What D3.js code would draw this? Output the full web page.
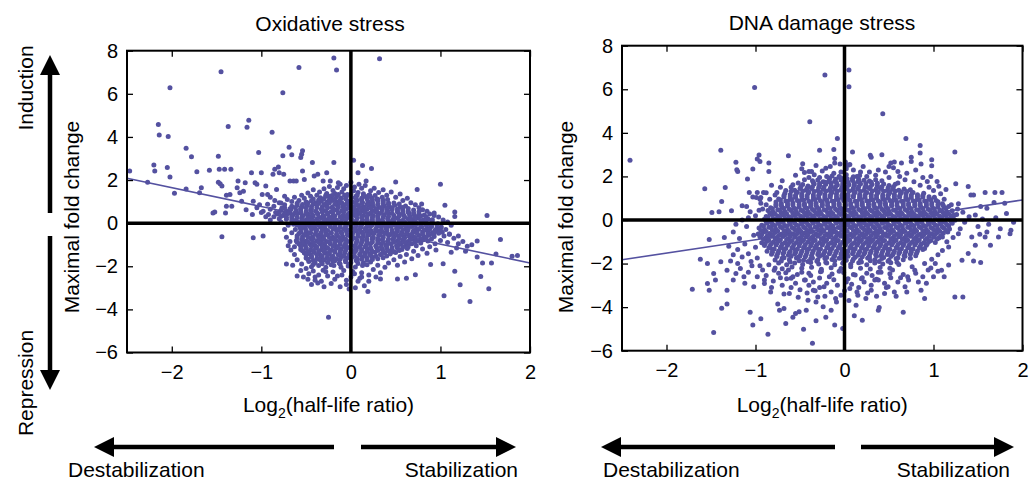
<!DOCTYPE html>
<html><head><meta charset="utf-8">
<script src="https://cdn.jsdelivr.net/npm/d3@7"></script>
<style>body{margin:0;background:#fff}</style>
</head><body><svg id="c" width="1029" height="482"></svg>
<script>
const xTicks=[-2,-1,0,1,2];
const yTicks=[-6,-4,-2,0,2,4,6,8];
const panelTitles=["Oxidative stress","DNA damage stress"];
const yLabel="Maximal fold change";
const xLabelParts=["Log","2","(half-life ratio)"];
const sideLabels=["Induction","Repression"];
const bottomLabels=["Destabilization","Stabilization"];
// regression fits: [slope, intercept]
const oxFit=[-0.873,-0.10];
const dnaFit=[0.61,-0.30];

const oxOutliers=[[-2.47,2.42],[-2.27,1.9],[-2.15,4.58],[-2.14,4.09],[-2.04,4.02],[-2.02,6.28],[-2.2,2.7],[-2.19,2.42],[-2.05,2.58],[-2.02,2.14],[-1.97,1.39],[-1.84,3.48],[-1.84,1.59],[-1.78,3.08],[-1.72,2.39],[-1.69,1.41],[-1.67,1.64],[-1.58,2.45],[-1.54,.47],[-1.52,.52],[-1.47,2.5],[-1.48,3.1],[-1.45,7.02],[-1.48,1.9],[-1.46,1.83],[-1.44,1.72],[-1.41,2.5],[-1.37,4.48],[-1.39,1.3],[-1.39,.78],[-1.4,.47],[-1.34,2.5],[-1.35,1.33],[-1.33,.78],[-1.26,1.95],[-1.27,1.64],[-1.24,1.41],[-1.22,1.02],[-1.2,1.48],[-1.18,1.88],[-1.16,4.45],[-1.14,4.77],[-1.17,.62],[-1.11,2.34],[-1.09,1.02],[-1.07,1.88],[-1.05,1.8],[-1.03,3.28],[-1,2.34],[-.99,1.33],[-.95,1.72],[-.93,1.33],[-.88,4.22],[-.87,2.27],[-.85,2.5],[-.83,1.56],[-.81,2.61],[-.8,2.34],[-.78,.94],[-.76,6.05],[-.76,3.13],[-.75,2.27],[-.74,1.25],[-.69,3.52],[-.68,1.95],[-.66,3.17],[-.64,1.95],[-.61,1.95],[-.58,7.22],[-.56,3.05],[-.55,3.2],[-.54,3.36],[-.54,2.42],[-.52,2.03],[-.43,2.81],[-.41,2.19],[-.37,2.27],[-.31,1.95],[-.27,2.34],[-.23,1.95],[-.19,2.81],[-.19,7.66],[-.16,7.11],[-.14,1.88],[.03,2.92],[.08,2.34],[.13,2.67],[.23,2.53],[.32,7.63],[.17,1.95],[.5,1.91],[.74,1.56],[1,1.8],[.79,.89],[1.05,.83],[1.16,.52],[1.16,.31],[1.52,.36],[.93,.47],
[-1.44,-.63],[-1.09,-.68],[-.98,-.6],[-.72,-1.89],[-.53,-2.5],[-.37,-2.78],[-.25,-4.36],[-.02,-3.06],[.19,-3.17],[.33,-2.59],[.52,-2.59],[.62,-2.55],[.72,-2.39],[.89,-1.92],[1.03,-1.88],[1.04,-3.37],[1.16,-2.23],[1.22,-2.86],[1.33,-3.63],[1.45,-2.47],[1.54,-3.04],[1.57,-1.85],[1.47,-1.85],[1.41,-1.57],[1.3,-1.07],[1.67,-.76],[1.8,-1.53],[1.86,-1.5],[1.62,-1.43],[1.41,-.83],[1.2,-.6],[1.1,-.52],[.93,-.45],[1.25,-.85],[1.35,-1.0],[1.18,-1.15],[1.28,-1.3],[1.12,-1.35]];

const oxFringe=[[-1.05,.72],[-.98,.55],[-.93,.88],[-.9,.64],[-.86,.78],[-.84,.5],[-.8,.95],[-.77,.7],[-.74,.85],[-.71,1.1],[-.69,.48],[-.66,1.0],[-.63,1.2],[-.58,1.05],[-.55,1.3],[-.52,1.15],[-.48,1.4],[-.45,1.25],[-.42,1.55],[-.38,1.3],[-.35,1.45],[-.3,1.6],[-.27,1.38],[-.24,1.7],[-.2,1.52],[-.15,1.65],[-.12,1.8],[-.08,1.6],[-.05,1.75],[0,1.9],[.04,1.68],[.09,1.8],[.12,1.62],[.16,1.75],[.22,1.5],[.26,1.62],[.31,1.42],[.36,1.55],[.4,1.3],[.45,1.45],[.5,1.2],[.55,1.35],[.58,1.05],[.63,1.15],[.67,.95],[.72,.85],[.76,.72],[.8,.62],[.85,.55],[.88,.42],[.93,.35],[.98,.28],[1.03,.15],[1.08,.05],[1.12,-.1],[1.06,-.3],[1.1,-.5],[1.04,-.6],[1.15,-.7],[1,-.8],[1.08,-.9],[.94,-.95],[1.2,-.95],[.88,-1.1],[.95,-1.25],[.8,-1.2],[.85,-1.4],[.7,-1.3],[.75,-1.5],[.62,-1.45],[.68,-1.65],[.55,-1.55],[.6,-1.8],[.48,-1.7],[.52,-1.95],[.42,-1.85],[.38,-2.05],[.3,-1.95],[.25,-2.15],[.33,-2.3],[.2,-2.4],[.1,-2.55],[0,-2.5],[-.1,-2.4],[-.18,-2.6],[-.26,-2.45],[-.33,-2.7],[-.4,-2.5],[-.47,-2.35],[-.5,-2.1],[-.55,-1.9],[-.6,-1.7],[-.63,-1.45],[-.67,-1.25],[-.7,-1.05],[-.68,-.85],[-.72,-.65],[-.66,-.45],[-.74,-.3],[-.7,-.1],[-.78,.05],[-.8,.2],[-.86,.3],[-.92,.4],[-.05,-2.85],[.08,-2.7],[-.22,-2.8],[.15,-2.9],[-.4,-2.65],[-.3,-2.95],[.05,-3.0],
[-.48,-2.6],[-.44,-2.85],[-.36,-2.4],[-.28,-2.25],[-.15,-2.45],[-.05,-2.65],[-.12,-2.95],[.04,-2.35],[.12,-2.5],[.2,-2.7],[.28,-2.5],[-.56,-2.2],[-.6,-2.45],[-.65,-1.95],[-.58,-.95],[-.63,-1.1],[-.62,-.3],[-.64,-.05],[-.9,.15],[-.95,.3],[-1,.5],[-1.1,.4],[-1.02,.85],[-.85,1.05],[-.9,1.2]];

const oxCore=[[-.18,1.38],[-.1,1.45],[-.04,1.33],[.03,1.5],[.08,1.42],[.14,1.36],[.2,1.3],[-.25,1.25],
[-.34,1.18],[-.28,1.25],[-.22,1.15],[-.16,1.22],[-.11,1.17],[-.05,1.24],[.01,1.19],[.06,1.26],[.12,1.16],[.17,1.23],[.23,1.18],[.29,1.12],[.35,1.2],
[-.5,.98],[-.44,1.04],[-.39,.95],[-.33,1.02],[-.27,.97],[-.21,1.05],[-.16,.99],[-.1,.94],[-.04,1.03],[.02,.97],[.07,1.05],[.13,.96],[.19,1.01],[.24,.95],[.3,1.03],[.36,.98],[.42,.93],
[-.66,.78],[-.6,.84],[-.55,.75],[-.49,.82],[-.44,.77],[-.38,.85],[-.32,.76],[-.27,.81],[-.21,.74],[-.15,.83],[-.09,.78],[-.03,.86],[.03,.76],[.08,.82],[.14,.75],[.2,.84],[.25,.79],[.31,.73],[.37,.81],[.43,.76],[.49,.83],[.55,.74],[.61,.8],
[-.78,.6],[-.72,.55],[-.67,.64],[-.61,.57],[-.56,.63],[-.5,.54],[-.45,.61],[-.39,.56],[-.33,.65],[-.28,.58],[-.22,.53],[-.16,.62],[-.1,.57],[-.05,.64],[.01,.55],[.07,.61],[.12,.56],[.18,.65],[.24,.58],[.29,.53],[.35,.62],[.41,.57],[.46,.63],[.52,.55],[.58,.6],[.64,.54],[.7,.61],
[-.82,.42],[-.76,.36],[-.71,.44],[-.65,.38],[-.6,.45],[-.54,.35],[-.48,.41],[-.43,.37],[-.37,.44],[-.31,.36],[-.26,.42],[-.2,.38],[-.14,.46],[-.09,.35],[-.03,.41],[.03,.37],[.08,.44],[.14,.36],[.2,.42],[.25,.35],[.31,.43],[.37,.38],[.42,.45],[.48,.36],[.54,.41],[.59,.37],[.65,.44],[.71,.35],[.76,.41],[.82,.38],
[-.72,.18],[-.66,.24],[-.61,.16],[-.55,.22],[-.5,.15],[-.44,.21],[-.38,.17],[-.33,.25],[-.27,.16],[-.21,.22],[-.16,.14],[-.1,.2],[-.04,.25],[.01,.16],[.07,.23],[.13,.15],[.18,.21],[.24,.17],[.3,.24],[.35,.15],[.41,.2],[.47,.16],[.52,.23],[.58,.14],[.64,.21],[.69,.17],[.75,.24],[.81,.15],[.86,.2],[.91,.16],
[-.62,-.02],[-.56,.04],[-.51,-.04],[-.45,.03],[-.39,-.05],[-.34,.02],[-.28,-.03],[-.22,.05],[-.17,-.02],[-.11,.04],[-.05,-.04],[.01,.02],[.06,-.05],[.12,.03],[.18,-.02],[.23,.05],[.29,-.04],[.35,.01],[.4,-.03],[.46,.04],[.52,-.05],[.57,.02],[.63,-.03],[.69,.05],[.74,-.02],[.8,.03],[.86,-.04],[.91,.02],[.97,-.03],
[-.57,-.18],[-.51,-.23],[-.46,-.16],[-.4,-.24],[-.34,-.17],[-.29,-.22],[-.23,-.15],[-.17,-.25],[-.12,-.18],[-.06,-.23],[0,-.16],[.05,-.24],[.11,-.19],[.17,-.22],[.22,-.15],[.28,-.25],[.34,-.17],[.39,-.23],[.45,-.16],[.51,-.24],[.56,-.18],[.62,-.22],[.68,-.15],[.73,-.25],[.79,-.17],[.85,-.23],[.9,-.16],[.96,-.22],[1.01,-.18],
[-.56,-.42],[-.5,-.37],[-.45,-.44],[-.39,-.36],[-.33,-.43],[-.28,-.38],[-.22,-.45],[-.16,-.35],[-.11,-.41],[-.05,-.37],[.01,-.44],[.06,-.36],[.12,-.42],[.18,-.38],[.23,-.45],[.29,-.35],[.35,-.41],[.4,-.37],[.46,-.44],[.52,-.36],[.57,-.42],[.63,-.38],[.69,-.45],[.74,-.35],[.8,-.41],[.86,-.37],[.91,-.44],[.97,-.36],[1.02,-.42],
[-.6,-.58],[-.54,-.63],[-.49,-.56],[-.43,-.64],[-.37,-.57],[-.32,-.62],[-.26,-.55],[-.2,-.65],[-.15,-.58],[-.09,-.63],[-.03,-.56],[.02,-.64],[.08,-.59],[.14,-.62],[.19,-.55],[.25,-.65],[.31,-.57],[.36,-.63],[.42,-.56],[.48,-.64],[.53,-.58],[.59,-.62],[.65,-.55],[.7,-.65],[.76,-.57],[.82,-.63],[.87,-.56],[.93,-.62],
[-.61,-.82],[-.55,-.77],[-.5,-.84],[-.44,-.76],[-.38,-.83],[-.33,-.78],[-.27,-.85],[-.21,-.75],[-.16,-.81],[-.1,-.77],[-.04,-.84],[.01,-.76],[.07,-.82],[.13,-.78],[.18,-.85],[.24,-.75],[.3,-.81],[.35,-.77],[.41,-.84],[.47,-.76],[.52,-.82],[.58,-.78],[.64,-.85],[.69,-.75],[.75,-.81],[.81,-.77],[.86,-.83],
[-.57,-.98],[-.51,-1.03],[-.46,-.96],[-.4,-1.04],[-.34,-.97],[-.29,-1.02],[-.23,-.95],[-.17,-1.05],[-.12,-.98],[-.06,-1.03],[0,-.96],[.05,-1.04],[.11,-.99],[.17,-1.02],[.22,-.95],[.28,-1.05],[.34,-.97],[.39,-1.03],[.45,-.96],[.51,-1.04],[.56,-.98],[.62,-1.02],[.68,-.95],[.73,-1.05],
[-.56,-1.22],[-.5,-1.17],[-.45,-1.24],[-.39,-1.16],[-.33,-1.23],[-.28,-1.18],[-.22,-1.25],[-.16,-1.15],[-.11,-1.21],[-.05,-1.17],[.01,-1.24],[.06,-1.16],[.12,-1.22],[.18,-1.18],[.23,-1.25],[.29,-1.15],[.35,-1.21],[.4,-1.17],[.46,-1.24],[.52,-1.16],[.57,-1.22],[.63,-1.18],
[-.52,-1.38],[-.46,-1.43],[-.41,-1.36],[-.35,-1.44],[-.29,-1.37],[-.24,-1.42],[-.18,-1.35],[-.12,-1.45],[-.07,-1.38],[-.01,-1.43],[.04,-1.36],[.1,-1.44],[.16,-1.39],[.21,-1.42],[.27,-1.35],[.33,-1.45],[.38,-1.37],[.44,-1.43],[.5,-1.36],
[-.5,-1.62],[-.44,-1.57],[-.38,-1.64],[-.33,-1.56],[-.27,-1.63],[-.21,-1.58],[-.16,-1.65],[-.1,-1.55],[-.04,-1.61],[.01,-1.57],[.07,-1.64],[.13,-1.56],[.18,-1.62],[.24,-1.58],[.3,-1.65],[.36,-1.6],
[-.47,-1.78],[-.4,-1.84],[-.33,-1.77],[-.26,-1.83],[-.2,-1.76],[-.13,-1.85],[-.06,-1.79],[0,-1.82],[.07,-1.76],[.14,-1.84],[.22,-1.8],
[-.44,-2.02],[-.36,-1.97],[-.28,-2.04],[-.19,-1.96],[-.11,-2.05],[-.03,-1.99],[.05,-2.03],[.13,-1.97],
[-.42,-2.22],[-.31,-2.18],[-.2,-2.26],[-.08,-2.2],[.02,-2.24],[.12,-2.3]];

const oxCoreFill=[[-.28,1.3],[-.21,1.28],[-.14,1.33],[-.07,1.29],[0,1.34],[.07,1.3],[.14,1.27],[.21,1.31],[.27,1.28],
[-.42,1.12],[-.36,1.07],[-.3,1.13],[-.24,1.09],[-.18,1.11],[-.12,1.06],[-.06,1.13],[0,1.08],[.06,1.12],[.12,1.07],[.18,1.13],[.24,1.09],[.3,1.11],[.36,1.06],[.41,1.1],
[-.6,.92],[-.54,.87],[-.48,.93],[-.42,.89],[-.36,.91],[-.3,.86],[-.24,.93],[-.18,.88],[-.12,.92],[-.06,.87],[0,.93],[.06,.89],[.12,.91],[.18,.86],[.24,.93],[.3,.88],[.36,.92],[.42,.87],[.48,.93],[.54,.89],
[-.74,.72],[-.68,.67],[-.62,.73],[-.56,.69],[-.5,.71],[-.44,.66],[-.38,.73],[-.32,.68],[-.26,.72],[-.2,.67],[-.14,.73],[-.08,.69],[-.02,.71],[.04,.66],[.1,.73],[.16,.68],[.22,.72],[.28,.67],[.34,.73],[.4,.69],[.46,.71],[.52,.66],[.58,.73],[.64,.68],
[-.8,.52],[-.74,.47],[-.68,.53],[-.62,.49],[-.56,.51],[-.5,.46],[-.44,.53],[-.38,.48],[-.32,.52],[-.26,.47],[-.2,.53],[-.14,.49],[-.08,.51],[-.02,.46],[.04,.53],[.1,.48],[.16,.52],[.22,.47],[.28,.53],[.34,.49],[.4,.51],[.46,.46],[.52,.53],[.58,.48],[.64,.52],[.7,.47],[.76,.53],
[-.78,.32],[-.72,.27],[-.66,.33],[-.6,.29],[-.54,.31],[-.48,.26],[-.42,.33],[-.36,.28],[-.3,.32],[-.24,.27],[-.18,.33],[-.12,.29],[-.06,.31],[0,.26],[.06,.33],[.12,.28],[.18,.32],[.24,.27],[.3,.33],[.36,.29],[.42,.31],[.48,.26],[.54,.33],[.6,.28],[.66,.32],[.72,.27],[.78,.33],[.84,.29],
[-.66,.12],[-.6,.07],[-.54,.13],[-.48,.09],[-.42,.11],[-.36,.06],[-.3,.13],[-.24,.08],[-.18,.12],[-.12,.07],[-.06,.13],[0,.09],[.06,.11],[.12,.06],[.18,.13],[.24,.08],[.3,.12],[.36,.07],[.42,.13],[.48,.09],[.54,.11],[.6,.06],[.66,.13],[.72,.08],[.78,.12],[.84,.07],[.9,.13],
[-.6,-.08],[-.54,-.13],[-.48,-.07],[-.42,-.11],[-.36,-.09],[-.3,-.14],[-.24,-.07],[-.18,-.12],[-.12,-.08],[-.06,-.13],[0,-.07],[.06,-.11],[.12,-.09],[.18,-.14],[.24,-.07],[.3,-.12],[.36,-.08],[.42,-.13],[.48,-.07],[.54,-.11],[.6,-.09],[.66,-.14],[.72,-.07],[.78,-.12],[.84,-.08],[.9,-.13],[.96,-.07],
[-.56,-.28],[-.5,-.33],[-.44,-.27],[-.38,-.31],[-.32,-.29],[-.26,-.34],[-.2,-.27],[-.14,-.32],[-.08,-.28],[-.02,-.33],[.04,-.27],[.1,-.31],[.16,-.29],[.22,-.34],[.28,-.27],[.34,-.32],[.4,-.28],[.46,-.33],[.52,-.27],[.58,-.31],[.64,-.29],[.7,-.34],[.76,-.27],[.82,-.32],[.88,-.28],[.94,-.33],[1,-.27],
[-.58,-.48],[-.52,-.53],[-.46,-.47],[-.4,-.51],[-.34,-.49],[-.28,-.54],[-.22,-.47],[-.16,-.52],[-.1,-.48],[-.04,-.53],[.02,-.47],[.08,-.51],[.14,-.49],[.2,-.54],[.26,-.47],[.32,-.52],[.38,-.48],[.44,-.53],[.5,-.47],[.56,-.51],[.62,-.49],[.68,-.54],[.74,-.47],[.8,-.52],[.86,-.48],[.92,-.53],[.98,-.47],
[-.6,-.68],[-.54,-.73],[-.48,-.67],[-.42,-.71],[-.36,-.69],[-.3,-.74],[-.24,-.67],[-.18,-.72],[-.12,-.68],[-.06,-.73],[0,-.67],[.06,-.71],[.12,-.69],[.18,-.74],[.24,-.67],[.3,-.72],[.36,-.68],[.42,-.73],[.48,-.67],[.54,-.71],[.6,-.69],[.66,-.74],[.72,-.67],[.78,-.72],[.84,-.68],[.9,-.73],
[-.6,-.88],[-.54,-.93],[-.48,-.87],[-.42,-.91],[-.36,-.89],[-.3,-.94],[-.24,-.87],[-.18,-.92],[-.12,-.88],[-.06,-.93],[0,-.87],[.06,-.91],[.12,-.89],[.18,-.94],[.24,-.87],[.3,-.92],[.36,-.88],[.42,-.93],[.48,-.87],[.54,-.91],[.6,-.89],[.66,-.94],[.72,-.87],[.78,-.92],
[-.56,-1.08],[-.5,-1.13],[-.44,-1.07],[-.38,-1.11],[-.32,-1.09],[-.26,-1.14],[-.2,-1.07],[-.14,-1.12],[-.08,-1.08],[-.02,-1.13],[.04,-1.07],[.1,-1.11],[.16,-1.09],[.22,-1.14],[.28,-1.07],[.34,-1.12],[.4,-1.08],[.46,-1.13],[.52,-1.07],[.58,-1.11],[.64,-1.09],
[-.54,-1.28],[-.48,-1.33],[-.42,-1.27],[-.36,-1.31],[-.3,-1.29],[-.24,-1.34],[-.18,-1.27],[-.12,-1.32],[-.06,-1.28],[0,-1.33],[.06,-1.27],[.12,-1.31],[.18,-1.29],[.24,-1.34],[.3,-1.27],[.36,-1.32],[.42,-1.28],[.48,-1.33],[.54,-1.27],
[-.5,-1.48],[-.44,-1.53],[-.38,-1.47],[-.32,-1.51],[-.26,-1.49],[-.2,-1.54],[-.14,-1.47],[-.08,-1.52],[-.02,-1.48],[.04,-1.53],[.1,-1.47],[.16,-1.51],[.22,-1.49],[.28,-1.54],[.34,-1.47],[.4,-1.52],
[-.48,-1.68],[-.42,-1.73],[-.36,-1.67],[-.3,-1.71],[-.24,-1.69],[-.18,-1.74],[-.12,-1.67],[-.06,-1.72],[0,-1.68],[.06,-1.73],[.12,-1.67],[.18,-1.71],[.24,-1.69],
[-.42,-1.92],[-.32,-1.88],[-.22,-1.93],[-.12,-1.89],[-.02,-1.91],[.08,-1.87],[.18,-1.93]];

const dnaOutliers=[[-2.41,2.74],[-1.57,1.43],[-1.39,3.2],[-1.34,1.49],[-1.38,.85],[-1.49,.34],[-1.41,.38],[-1.27,.42],[-1.22,2.65],[-1.21,2.31],[-1.2,2.23],[-1.09,1.88],[-1.15,.65],[-1.1,.62],[-1.06,.38],[-1.03,2.34],[-1.01,6.08],[-.98,2.8],[-.96,2.98],[-.95,2.69],[-1.03,1.05],[-.99,1.03],[-.94,1.03],[-1.07,1.26],[-.98,1.26],[-.91,1.26],[-.85,2.62],[-.85,2.23],[-.94,.77],[-.76,1.26],[-.63,2.95],[-.58,1.62],[-.47,2.58],[-.45,2.18],[-.4,2.23],[-.39,4.51],[-.37,2.23],[-.34,2.08],[-.28,3.2],[-.22,6.65],[-.21,2.38],[-.18,1.77],[-.12,3.23],[-.11,2.82],[-.11,2.62],[-.08,3.74],[-.05,2.57],[.05,6.89],[.05,6.12],[.01,2.66],[.04,2.51],[.09,3.12],[.29,2.97],[.3,2.88],[.42,3],[.43,4.88],[.52,2.62],[.5,2.46],[.56,2.66],[.6,2.23],[.64,2.62],[.69,3.74],[.75,2.88],[.75,2.69],[.85,3.42],[.85,3.08],[.86,2.57],[.98,2.77],[.98,2.49],[1.24,3.12],[.93,1.77],[1.04,1.77],[1.25,1.66],[1.39,1.54],[1.42,1.15],[1.45,1.15],[1.58,1.26],[1.69,1.26],[1.77,1.26],[1.53,.62],[1.6,.54],[1.68,.8],[1.8,.77],[1.47,.23],[1.23,.23],[1.28,.74],
[-1.71,-3.18],[-1.62,-1.8],[-1.54,-2],[-1.52,-.9],[-1.47,-5.16],[-1.54,-2.92],[-1.52,-3.22],[-1.47,-2.46],[-1.45,-2.76],[-1.39,-1.92],[-1.38,-4.05],[-1.32,-3.86],[-1.32,-3.22],[-1.32,-2.31],[-1.28,-1.88],[-1.25,-2.76],[-1.22,-2.46],[-1.17,-2.23],[-1.13,-2.61],[-1.06,-4.23],[-1.03,-4.82],[-1.02,-3.07],[-.98,-2.61],[-.94,-4.53],[-.9,-2.92],[-.86,-5.24],[-.83,-3.3],[-.79,-2.31],[-.75,-3.86],[-.73,-4.14],[-.68,-4.06],[-.66,-4.75],[-.62,-3.37],[-.58,-4.47],[-.55,-4.29],[-.51,-4.21],[-.46,-5.01],[-.43,-4.14],[-.41,-3.68],[-.36,-5.66],[-.35,-3.22],[-.32,-3.76],[-.32,-4.63],[-.3,-3.53],[-.24,-3.98],[-.23,-3.07],[-.21,-4.47],[-.15,-4.14],[-.11,-4.82],[-.09,-3.76],[-.04,-3.45],[-.02,-4.98],[.06,-3.15],[.11,-4.4],[.13,-3.91],[.2,-4.6],[.15,-3.45],[.24,-3.6],[.38,-4.14],[.39,-4.02],[.3,-3.22],[.34,-2.76],[.45,-3.37],[.49,-3.07],[.56,-3.3],[.66,-4.24],[.68,-3.07],[.71,-2.61],[.79,-2.31],[.86,-3.22],[.9,-3.6],[1,-2.61],[1.09,-2.31],[1.12,-2.61],[1.17,-2.07],[1.24,-3.53],[1.33,-3.53],[1.32,-1.85],[1.39,-1.54],[1.45,-1.88],[1.53,-1.95],[1.47,-1.16],[1.43,-.78],[1.58,-.78],[1.64,-1.16],[1.73,-.78],[1.86,-.63],[1.87,-.47],[1.28,-.63],[1.17,-1.24]];

const dnaFringe=[[-1.25,-.55],[-1.18,-.85],[-1.12,-1.1],[-1.2,-1.35],[-1.08,-1.55],[-1.15,-1.7],[-1.05,-1.9],[-1.1,-.3],[-1.02,-.7],[-1,-1.25],[-1.04,-2.1],[-.98,-1.75],[-1,.2],[-.96,.45],[-1.08,.1],[-1.15,0],[-.92,-2.3],[-.88,-2.55],[-.85,-2.05],[-.8,-2.8],[-.74,-2.45],[-.7,-3.0],[-.65,-2.7],[-.6,-3.1],[-.55,-2.9],[-.5,-3.2],[-.45,-2.75],[-.4,-3.0],[-.35,-2.85],[-.28,-3.1],[-.2,-2.9],[-.15,-3.3],[-.08,-3.0],[0,-3.25],[.08,-2.95],[.16,-3.1],[.22,-2.85],[.3,-3.0],[.38,-2.75],[.45,-2.9],[.52,-2.65],[.6,-2.85],[.66,-2.5],[.72,-2.75],[.8,-2.45],[.88,-2.6],[.94,-2.3],[.9,-2.0],[.98,-1.8],[1.05,-1.6],[1.02,-2.0],[1.1,-1.4],[1.15,-1.0],[1.22,-.8],[1.3,-.4],[1.35,-.1],[1.4,.15],[1.33,.35],[1.27,.5],[1.2,.7],[1.12,.95],[1.08,1.2],[1,1.35],[.95,1.5],[.85,1.6],[.78,1.75],[.68,1.85],[.6,1.7],[.5,1.95],[.42,1.8],[.35,2.05],[.25,2.0],[.18,2.2],[.1,2.3],[.02,2.35],[-.04,2.2],[-.12,2.15],[-.2,2.0],[-.28,1.95],[-.36,1.8],[-.45,1.85],[-.52,1.7],[-.6,1.5],[-.66,1.35],[-.72,1.5],[-.78,1.15],[-.84,.95],[-.88,.7],[-.92,.5],[1.5,-.3],[1.55,.05],[1.62,-.2],[1.7,.1],[1.75,-.4],[1.82,.3],[1.9,-.1],[1.6,-.55],[1.52,-.65],
[-.95,-2.1],[-.9,-2.75],[-.82,-3.1],[-.78,-2.2],[-.72,-2.65],[-.68,-3.4],[-.63,-2.3],[-.58,-2.6],[-.52,-3.55],[-.48,-2.4],[-.42,-3.35],[-.38,-2.55],[-.33,-3.25],[-.26,-2.35],[-.22,-3.5],[-.17,-2.6],[-.1,-3.6],[-.06,-2.35],[.02,-2.85],[.05,-3.7],[.1,-2.5],[.14,-3.3],[.19,-2.7],[.26,-3.35],[.31,-2.55],[.36,-3.5],[.41,-2.4],[.47,-3.1],[.54,-2.3],[.58,-3.5],[.63,-2.65],[.7,-3.3],[.76,-2.15],[.83,-2.85],[.92,-2.9],[.97,-2.2],[1.05,-2.35],[-1.08,-2.4],[-1.12,-2.9],[-1.2,-2.0],[-1.25,-1.6],[-1.3,-1.2],[-1.35,-.8],[-1.22,-.2],
[-.55,2.05],[-.48,2.35],[-.4,1.95],[-.32,2.5],[-.25,2.25],[-.16,2.45],[-.06,2.0],[.06,2.55],[.14,2.0],[.21,2.45],[.28,2.2],[.38,2.3],[.46,2.2],[.55,2.4],[.62,2.0],[.7,2.15],[.8,2.3],[.88,1.95],[.97,2.0],[1.06,1.55],[1.14,1.4],[-.7,1.8],[-.82,1.6],[-.88,1.25],[-.95,.95]];

const dnaCore=[[-.14,2.02],[-.06,1.96],[.02,2.08],[.1,1.98],[.17,2.04],
[-.3,1.83],[-.24,1.76],[-.17,1.85],[-.11,1.78],[-.04,1.84],[.02,1.75],[.09,1.81],[.15,1.77],[.22,1.82],[.28,1.79],[.35,1.85],
[-.47,1.63],[-.41,1.56],[-.34,1.65],[-.28,1.58],[-.21,1.64],[-.15,1.55],[-.08,1.61],[-.02,1.57],[.05,1.62],[.11,1.59],[.18,1.65],[.24,1.56],[.31,1.63],[.37,1.56],[.44,1.65],[.5,1.58],[.57,1.64],
[-.56,1.36],[-.5,1.45],[-.43,1.38],[-.37,1.44],[-.3,1.35],[-.24,1.41],[-.17,1.37],[-.11,1.42],[-.04,1.39],[.02,1.45],[.09,1.36],[.15,1.43],[.22,1.36],[.28,1.45],[.35,1.38],[.41,1.44],[.48,1.35],[.54,1.41],[.61,1.37],[.67,1.42],[.74,1.39],
[-.67,1.23],[-.61,1.16],[-.54,1.25],[-.48,1.18],[-.41,1.24],[-.35,1.15],[-.28,1.21],[-.22,1.17],[-.15,1.22],[-.09,1.19],[-.02,1.25],[.04,1.16],[.11,1.23],[.17,1.16],[.24,1.25],[.3,1.18],[.37,1.24],[.43,1.15],[.5,1.21],[.56,1.17],[.63,1.22],[.69,1.19],[.76,1.25],[.82,1.16],[.89,1.23],
[-.74,.96],[-.68,1.05],[-.61,.98],[-.55,1.04],[-.48,.95],[-.42,1.01],[-.35,.97],[-.29,1.02],[-.22,.99],[-.16,1.05],[-.09,.96],[-.03,1.03],[.04,.96],[.1,1.05],[.17,.98],[.23,1.04],[.3,.95],[.36,1.01],[.43,.97],[.49,1.02],[.56,.99],[.62,1.05],[.69,.96],[.75,1.03],[.82,.96],[.88,1.05],[.95,.98],[1.01,1.04],
[-.77,.83],[-.71,.76],[-.64,.85],[-.58,.78],[-.51,.84],[-.45,.75],[-.38,.81],[-.32,.77],[-.25,.82],[-.19,.79],[-.12,.85],[-.06,.76],[.01,.83],[.07,.76],[.14,.85],[.2,.78],[.27,.84],[.33,.75],[.4,.81],[.46,.77],[.53,.82],[.59,.79],[.66,.85],[.72,.76],[.79,.83],[.85,.76],[.92,.85],[.98,.78],[1.05,.84],[1.1,.75],
[-.83,.56],[-.77,.65],[-.7,.58],[-.64,.64],[-.57,.55],[-.51,.61],[-.44,.57],[-.38,.62],[-.31,.59],[-.25,.65],[-.18,.56],[-.12,.63],[-.05,.56],[.01,.65],[.08,.58],[.14,.64],[.21,.55],[.27,.61],[.34,.57],[.4,.62],[.47,.59],[.53,.65],[.6,.56],[.66,.63],[.73,.56],[.79,.65],[.86,.58],[.92,.64],[.99,.55],[1.05,.61],[1.12,.57],[1.17,.62],
[-.86,.43],[-.8,.36],[-.73,.45],[-.67,.38],[-.6,.44],[-.54,.35],[-.47,.41],[-.41,.37],[-.34,.42],[-.28,.39],[-.21,.45],[-.15,.36],[-.08,.43],[-.02,.36],[.05,.45],[.11,.38],[.18,.44],[.24,.35],[.31,.41],[.37,.37],[.44,.42],[.5,.39],[.57,.45],[.63,.36],[.7,.43],[.76,.36],[.83,.45],[.89,.38],[.96,.44],[1.02,.35],[1.09,.41],[1.15,.37],[1.21,.42],
[-.88,.16],[-.82,.25],[-.75,.18],[-.69,.24],[-.62,.15],[-.56,.21],[-.49,.17],[-.43,.22],[-.36,.19],[-.3,.25],[-.23,.16],[-.17,.23],[-.1,.16],[-.04,.25],[.03,.18],[.09,.24],[.16,.15],[.22,.21],[.29,.17],[.35,.22],[.42,.19],[.48,.25],[.55,.16],[.61,.23],[.68,.16],[.74,.25],[.81,.18],[.87,.24],[.94,.15],[1,.21],[1.07,.17],[1.13,.22],[1.2,.19],[1.26,.25],
[-.9,.03],[-.84,-.04],[-.77,.05],[-.71,-.02],[-.64,.04],[-.58,-.05],[-.51,.01],[-.45,-.03],[-.38,.02],[-.32,-.01],[-.25,.05],[-.19,-.04],[-.12,.03],[-.06,-.04],[.01,.05],[.07,-.02],[.14,.04],[.2,-.05],[.27,.01],[.33,-.03],[.4,.02],[.46,-.01],[.53,.05],[.59,-.04],[.66,.03],[.72,-.04],[.79,.05],[.85,-.02],[.92,.04],[.98,-.05],[1.05,.01],[1.11,-.03],[1.18,.02],[1.24,-.01],
[-.93,-.24],[-.87,-.15],[-.8,-.22],[-.74,-.16],[-.67,-.25],[-.61,-.19],[-.54,-.23],[-.48,-.18],[-.41,-.21],[-.35,-.15],[-.28,-.24],[-.22,-.17],[-.15,-.24],[-.09,-.15],[-.02,-.22],[.04,-.16],[.11,-.25],[.17,-.19],[.24,-.23],[.3,-.18],[.37,-.21],[.43,-.15],[.5,-.24],[.56,-.17],[.63,-.24],[.69,-.15],[.76,-.22],[.82,-.16],[.89,-.25],[.95,-.19],[1.02,-.23],[1.08,-.18],[1.15,-.21],[1.21,-.15],
[-.96,-.37],[-.9,-.44],[-.83,-.35],[-.77,-.42],[-.7,-.36],[-.64,-.45],[-.57,-.39],[-.51,-.43],[-.44,-.38],[-.38,-.41],[-.31,-.35],[-.25,-.44],[-.18,-.37],[-.12,-.44],[-.05,-.35],[.01,-.42],[.08,-.36],[.14,-.45],[.21,-.39],[.27,-.43],[.34,-.38],[.4,-.41],[.47,-.35],[.53,-.44],[.6,-.37],[.66,-.44],[.73,-.35],[.79,-.42],[.86,-.36],[.92,-.45],[.99,-.39],[1.05,-.43],[1.12,-.38],[1.18,-.41],
[-.97,-.64],[-.91,-.55],[-.84,-.62],[-.78,-.56],[-.71,-.65],[-.65,-.59],[-.58,-.63],[-.52,-.58],[-.45,-.61],[-.39,-.55],[-.32,-.64],[-.26,-.57],[-.19,-.64],[-.13,-.55],[-.06,-.62],[0,-.56],[.07,-.65],[.13,-.59],[.2,-.63],[.26,-.58],[.33,-.61],[.39,-.55],[.46,-.64],[.52,-.57],[.59,-.64],[.65,-.55],[.72,-.62],[.78,-.56],[.85,-.65],[.91,-.59],[.98,-.63],[1.04,-.58],[1.11,-.61],[1.16,-.55],
[-.95,-.77],[-.89,-.84],[-.82,-.75],[-.76,-.82],[-.69,-.76],[-.63,-.85],[-.56,-.79],[-.5,-.83],[-.43,-.78],[-.37,-.81],[-.3,-.75],[-.24,-.84],[-.17,-.77],[-.11,-.84],[-.04,-.75],[.02,-.82],[.09,-.76],[.15,-.85],[.22,-.79],[.28,-.83],[.35,-.78],[.41,-.81],[.48,-.75],[.54,-.84],[.61,-.77],[.67,-.84],[.74,-.75],[.8,-.82],[.87,-.76],[.93,-.85],[1,-.79],[1.06,-.83],[1.1,-.78],
[-.93,-1.04],[-.87,-.95],[-.8,-1.02],[-.74,-.96],[-.67,-1.05],[-.61,-.99],[-.54,-1.03],[-.48,-.98],[-.41,-1.01],[-.35,-.95],[-.28,-1.04],[-.22,-.97],[-.15,-1.04],[-.09,-.95],[-.02,-1.02],[.04,-.96],[.11,-1.05],[.17,-.99],[.24,-1.03],[.3,-.98],[.37,-1.01],[.43,-.95],[.5,-1.04],[.56,-.97],[.63,-1.04],[.69,-.95],[.76,-1.02],[.82,-.96],[.89,-1.05],[.95,-.99],[1.02,-1.03],
[-.9,-1.17],[-.84,-1.24],[-.77,-1.15],[-.71,-1.22],[-.64,-1.16],[-.58,-1.25],[-.51,-1.19],[-.45,-1.23],[-.38,-1.18],[-.32,-1.21],[-.25,-1.15],[-.19,-1.24],[-.12,-1.17],[-.06,-1.24],[.01,-1.15],[.07,-1.22],[.14,-1.16],[.2,-1.25],[.27,-1.19],[.33,-1.23],[.4,-1.18],[.46,-1.21],[.53,-1.15],[.59,-1.24],[.66,-1.17],[.72,-1.24],[.79,-1.15],[.85,-1.22],[.92,-1.16],
[-.87,-1.44],[-.81,-1.35],[-.74,-1.42],[-.68,-1.36],[-.61,-1.45],[-.55,-1.39],[-.48,-1.43],[-.42,-1.38],[-.35,-1.41],[-.29,-1.35],[-.22,-1.44],[-.16,-1.37],[-.09,-1.44],[-.03,-1.35],[.04,-1.42],[.1,-1.36],[.17,-1.45],[.23,-1.39],[.3,-1.43],[.36,-1.38],[.43,-1.41],[.49,-1.35],[.56,-1.44],[.62,-1.37],[.69,-1.44],[.75,-1.35],[.82,-1.42],[.88,-1.36],
[-.82,-1.57],[-.76,-1.64],[-.69,-1.55],[-.63,-1.62],[-.56,-1.56],[-.5,-1.65],[-.43,-1.59],[-.37,-1.63],[-.3,-1.58],[-.24,-1.61],[-.17,-1.55],[-.11,-1.64],[-.04,-1.57],[.02,-1.64],[.09,-1.55],[.15,-1.62],[.22,-1.56],[.28,-1.65],[.35,-1.59],[.41,-1.63],[.48,-1.58],[.54,-1.61],[.61,-1.55],[.67,-1.64],[.74,-1.57],[.8,-1.64],
[-.78,-1.84],[-.7,-1.76],[-.62,-1.82],[-.54,-1.75],[-.46,-1.85],[-.38,-1.78],[-.3,-1.83],[-.22,-1.77],[-.14,-1.81],[-.06,-1.76],[.02,-1.85],[.1,-1.79],[.18,-1.84],[.26,-1.75],[.34,-1.82],[.42,-1.77],[.5,-1.85],[.58,-1.78],[.66,-1.83],[.74,-1.76],
[-.74,-1.97],[-.65,-2.05],[-.56,-1.98],[-.47,-2.04],[-.38,-1.95],[-.29,-2.02],[-.2,-1.97],[-.11,-2.06],[-.02,-1.99],[.07,-2.03],[.16,-1.96],[.25,-2.05],[.34,-1.98],[.43,-2.02],[.52,-1.96],[.61,-2.04],
[-.7,-2.24],[-.59,-2.16],[-.48,-2.22],[-.37,-2.17],[-.26,-2.26],[-.15,-2.19],[-.04,-2.23],[.07,-2.15],[.18,-2.21],[.29,-2.25],[.4,-2.18],[.51,-2.22],
[-.66,-2.42],[-.53,-2.5],[-.4,-2.44],[-.27,-2.38],[-.14,-2.48],[-.01,-2.41],[.12,-2.52],[.25,-2.45],[.38,-2.4],[.51,-2.47],
[-.6,-2.68],[-.44,-2.75],[-.28,-2.66],[-.12,-2.74],[.04,-2.7],[.2,-2.65],[.36,-2.72]];

const dnaCoreFill=[[-.17,1.92],[-.1,1.87],[-.04,1.93],[.03,1.89],[.09,1.91],[.16,1.86],
[-.35,1.72],[-.28,1.67],[-.22,1.73],[-.15,1.69],[-.09,1.71],[-.02,1.66],[.04,1.73],[.11,1.68],[.17,1.72],[.24,1.67],[.3,1.73],[.37,1.69],
[-.49,1.52],[-.42,1.47],[-.36,1.53],[-.29,1.49],[-.23,1.51],[-.16,1.46],[-.1,1.53],[-.03,1.48],[.03,1.52],[.1,1.47],[.16,1.53],[.23,1.49],[.29,1.51],[.36,1.46],[.42,1.53],[.49,1.48],[.55,1.52],
[-.6,1.32],[-.53,1.27],[-.47,1.33],[-.4,1.29],[-.34,1.31],[-.27,1.26],[-.21,1.33],[-.14,1.28],[-.08,1.32],[-.01,1.27],[.05,1.33],[.12,1.29],[.18,1.31],[.25,1.26],[.31,1.33],[.38,1.28],[.44,1.32],[.51,1.27],[.57,1.33],[.64,1.29],[.7,1.31],[.77,1.26],
[-.68,1.12],[-.61,1.07],[-.55,1.13],[-.48,1.09],[-.42,1.11],[-.35,1.06],[-.29,1.13],[-.22,1.08],[-.16,1.12],[-.09,1.07],[-.03,1.13],[.04,1.09],[.1,1.11],[.17,1.06],[.23,1.13],[.3,1.08],[.36,1.12],[.43,1.07],[.49,1.13],[.56,1.09],[.62,1.11],[.69,1.06],[.75,1.13],[.82,1.08],[.88,1.12],[.95,1.07],
[-.72,.92],[-.66,.87],[-.59,.93],[-.53,.89],[-.46,.91],[-.4,.86],[-.33,.93],[-.27,.88],[-.2,.92],[-.14,.87],[-.07,.93],[-.01,.89],[.06,.91],[.12,.86],[.19,.93],[.25,.88],[.32,.92],[.38,.87],[.45,.93],[.51,.89],[.58,.91],[.64,.86],[.71,.93],[.77,.88],[.84,.92],[.9,.87],[.97,.93],[1.03,.89],
[-.77,.72],[-.71,.67],[-.64,.73],[-.58,.69],[-.51,.71],[-.45,.66],[-.38,.73],[-.32,.68],[-.25,.72],[-.19,.67],[-.12,.73],[-.06,.69],[.01,.71],[.07,.66],[.14,.73],[.2,.68],[.27,.72],[.33,.67],[.4,.73],[.46,.69],[.53,.71],[.59,.66],[.66,.73],[.72,.68],[.79,.72],[.85,.67],[.92,.73],[.98,.69],[1.05,.71],[1.11,.66],
[-.81,.52],[-.75,.47],[-.68,.53],[-.62,.49],[-.55,.51],[-.49,.46],[-.42,.53],[-.36,.48],[-.29,.52],[-.23,.47],[-.16,.53],[-.1,.49],[-.03,.51],[.03,.46],[.1,.53],[.16,.48],[.23,.52],[.29,.47],[.36,.53],[.42,.49],[.49,.51],[.55,.46],[.62,.53],[.68,.48],[.75,.52],[.81,.47],[.88,.53],[.94,.49],[1.01,.51],[1.07,.46],[1.14,.53],
[-.84,.32],[-.78,.27],[-.71,.33],[-.65,.29],[-.58,.31],[-.52,.26],[-.45,.33],[-.39,.28],[-.32,.32],[-.26,.27],[-.19,.33],[-.13,.29],[-.06,.31],[0,.26],[.07,.33],[.13,.28],[.2,.32],[.26,.27],[.33,.33],[.39,.29],[.46,.31],[.52,.26],[.59,.33],[.65,.28],[.72,.32],[.78,.27],[.85,.33],[.91,.29],[.98,.31],[1.04,.26],[1.11,.33],[1.17,.28],
[-.86,.12],[-.8,.07],[-.73,.13],[-.67,.09],[-.6,.11],[-.54,.06],[-.47,.13],[-.41,.08],[-.34,.12],[-.28,.07],[-.21,.13],[-.15,.09],[-.08,.11],[-.02,.06],[.05,.13],[.11,.08],[.18,.12],[.24,.07],[.31,.13],[.37,.09],[.44,.11],[.5,.06],[.57,.13],[.63,.08],[.7,.12],[.76,.07],[.83,.13],[.89,.09],[.96,.11],[1.02,.06],[1.09,.13],[1.15,.08],[1.22,.12],
[-.88,-.08],[-.82,-.13],[-.75,-.07],[-.69,-.11],[-.62,-.09],[-.56,-.14],[-.49,-.07],[-.43,-.12],[-.36,-.08],[-.3,-.13],[-.23,-.07],[-.17,-.11],[-.1,-.09],[-.04,-.14],[.03,-.07],[.09,-.12],[.16,-.08],[.22,-.13],[.29,-.07],[.35,-.11],[.42,-.09],[.48,-.14],[.55,-.07],[.61,-.12],[.68,-.08],[.74,-.13],[.81,-.07],[.87,-.11],[.94,-.09],[1,-.14],[1.07,-.07],[1.13,-.12],[1.2,-.08],
[-.91,-.28],[-.85,-.33],[-.78,-.27],[-.72,-.31],[-.65,-.29],[-.59,-.34],[-.52,-.27],[-.46,-.32],[-.39,-.28],[-.33,-.33],[-.26,-.27],[-.2,-.31],[-.13,-.29],[-.07,-.34],[0,-.27],[.06,-.32],[.13,-.28],[.19,-.33],[.26,-.27],[.32,-.31],[.39,-.29],[.45,-.34],[.52,-.27],[.58,-.32],[.65,-.28],[.71,-.33],[.78,-.27],[.84,-.31],[.91,-.29],[.97,-.34],[1.04,-.27],[1.1,-.32],[1.17,-.28],
[-.94,-.48],[-.88,-.53],[-.81,-.47],[-.75,-.51],[-.68,-.49],[-.62,-.54],[-.55,-.47],[-.49,-.52],[-.42,-.48],[-.36,-.53],[-.29,-.47],[-.23,-.51],[-.16,-.49],[-.1,-.54],[-.03,-.47],[.03,-.52],[.1,-.48],[.16,-.53],[.23,-.47],[.29,-.51],[.36,-.49],[.42,-.54],[.49,-.47],[.55,-.52],[.62,-.48],[.68,-.53],[.75,-.47],[.81,-.51],[.88,-.49],[.94,-.54],[1.01,-.47],[1.07,-.52],[1.14,-.48],
[-.93,-.68],[-.87,-.73],[-.8,-.67],[-.74,-.71],[-.67,-.69],[-.61,-.74],[-.54,-.67],[-.48,-.72],[-.41,-.68],[-.35,-.73],[-.28,-.67],[-.22,-.71],[-.15,-.69],[-.09,-.74],[-.02,-.67],[.04,-.72],[.11,-.68],[.17,-.73],[.24,-.67],[.3,-.71],[.37,-.69],[.43,-.74],[.5,-.67],[.56,-.72],[.63,-.68],[.69,-.73],[.76,-.67],[.82,-.71],[.89,-.69],[.95,-.74],[1.02,-.67],[1.08,-.72],
[-.91,-.88],[-.85,-.93],[-.78,-.87],[-.72,-.91],[-.65,-.89],[-.59,-.94],[-.52,-.87],[-.46,-.92],[-.39,-.88],[-.33,-.93],[-.26,-.87],[-.2,-.91],[-.13,-.89],[-.07,-.94],[0,-.87],[.06,-.92],[.13,-.88],[.19,-.93],[.26,-.87],[.32,-.91],[.39,-.89],[.45,-.94],[.52,-.87],[.58,-.92],[.65,-.88],[.71,-.93],[.78,-.87],[.84,-.91],[.91,-.89],[.97,-.94],[1.04,-.87],
[-.89,-1.08],[-.83,-1.13],[-.76,-1.07],[-.7,-1.11],[-.63,-1.09],[-.57,-1.14],[-.5,-1.07],[-.44,-1.12],[-.37,-1.08],[-.31,-1.13],[-.24,-1.07],[-.18,-1.11],[-.11,-1.09],[-.05,-1.14],[.02,-1.07],[.08,-1.12],[.15,-1.08],[.21,-1.13],[.28,-1.07],[.34,-1.11],[.41,-1.09],[.47,-1.14],[.54,-1.07],[.6,-1.12],[.67,-1.08],[.73,-1.13],[.8,-1.07],[.86,-1.11],[.93,-1.09],
[-.85,-1.28],[-.79,-1.33],[-.72,-1.27],[-.66,-1.31],[-.59,-1.29],[-.53,-1.34],[-.46,-1.27],[-.4,-1.32],[-.33,-1.28],[-.27,-1.33],[-.2,-1.27],[-.14,-1.31],[-.07,-1.29],[-.01,-1.34],[.06,-1.27],[.12,-1.32],[.19,-1.28],[.25,-1.33],[.32,-1.27],[.38,-1.31],[.45,-1.29],[.51,-1.34],[.58,-1.27],[.64,-1.32],[.71,-1.28],[.77,-1.33],[.84,-1.27],[.9,-1.31],
[-.81,-1.48],[-.75,-1.53],[-.68,-1.47],[-.62,-1.51],[-.55,-1.49],[-.49,-1.54],[-.42,-1.47],[-.36,-1.52],[-.29,-1.48],[-.23,-1.53],[-.16,-1.47],[-.1,-1.51],[-.03,-1.49],[.03,-1.54],[.1,-1.47],[.16,-1.52],[.23,-1.48],[.29,-1.53],[.36,-1.47],[.42,-1.51],[.49,-1.49],[.55,-1.54],[.62,-1.47],[.68,-1.52],[.75,-1.48],[.81,-1.53],
[-.76,-1.68],[-.68,-1.73],[-.6,-1.67],[-.52,-1.71],[-.44,-1.69],[-.36,-1.74],[-.28,-1.67],[-.2,-1.72],[-.12,-1.68],[-.04,-1.73],[.04,-1.67],[.12,-1.71],[.2,-1.69],[.28,-1.74],[.36,-1.67],[.44,-1.72],[.52,-1.68],[.6,-1.73],[.68,-1.67],
[-.71,-1.88],[-.61,-1.93],[-.51,-1.87],[-.41,-1.91],[-.31,-1.89],[-.21,-1.94],[-.11,-1.87],[-.01,-1.92],[.09,-1.88],[.19,-1.93],[.29,-1.87],[.39,-1.91],[.49,-1.89],[.59,-1.94]];

const FONT="'Liberation Sans', Arial, Helvetica, sans-serif";
const dotColor="#5451a0";
const svg=d3.select("#c");

const panels=[
 {title:panelTitles[0],pts:[...oxCore,...oxCoreFill,...oxFringe,...oxOutliers],fit:oxFit,x0:127,x1:530,yT:50.7,yB:352.5,titleX:330,titleY:31,labX:79,arrows:{l:[334,94],r:[361,516]},dest:68,stab:518},
 {title:panelTitles[1],pts:[...dnaCore,...dnaCoreFill,...dnaFringe,...dnaOutliers],fit:dnaFit,x0:622,x1:1022.5,yT:45.7,yB:350.7,titleX:822,titleY:30,labX:573,arrows:{l:[835,601],r:[861,1014]},dest:603,stab:1010}
];

function arrowH(g,tail,tip,y){
  const dir=tip>tail?1:-1, hl=20, hw=10;
  g.append("line").attr("x1",tail).attr("x2",tip-dir*hl+dir*1).attr("y1",y).attr("y2",y).attr("stroke","#000").attr("stroke-width",4.5);
  g.append("path").attr("d",`M${tip},${y}L${tip-dir*hl},${y-hw}L${tip-dir*hl},${y+hw}Z`).attr("fill","#000");
}
function arrowV(g,tail,tip,x){
  const dir=tip>tail?1:-1, hl=20, hw=10;
  g.append("line").attr("y1",tail).attr("y2",tip-dir*hl+dir*1).attr("x1",x).attr("x2",x).attr("stroke","#000").attr("stroke-width",4.5);
  g.append("path").attr("d",`M${x},${tip}L${x-hw},${tip-dir*hl}L${x+hw},${tip-dir*hl}Z`).attr("fill","#000");
}

panels.forEach(p=>{
  const x=d3.scaleLinear().domain([-2.5,2]).range([p.x0,p.x1]);
  const y=d3.scaleLinear().domain([-6,8]).range([p.yB,p.yT]);
  const g=svg.append("g");
  g.append("g").selectAll("circle").data(p.pts).join("circle")
    .attr("cx",d=>x(d[0])).attr("cy",d=>y(d[1])).attr("r",2.5).attr("fill",dotColor);
  g.append("line").attr("x1",x(-2.5)).attr("y1",y(p.fit[0]*-2.5+p.fit[1]))
    .attr("x2",x(2)).attr("y2",y(p.fit[0]*2+p.fit[1])).attr("stroke",dotColor).attr("stroke-width",1.6);
  g.append("line").attr("x1",x(0)).attr("x2",x(0)).attr("y1",p.yT).attr("y2",p.yB).attr("stroke","#000").attr("stroke-width",3.5);
  g.append("line").attr("x1",p.x0).attr("x2",p.x1).attr("y1",y(0)).attr("y2",y(0)).attr("stroke","#000").attr("stroke-width",3.5);
  const styleAx=a=>{a.select(".domain").remove();a.attr("font-size",20).attr("font-family",FONT);a.selectAll(".tick line").attr("stroke-width",1.3);};
  g.append("g").attr("transform",`translate(0,${p.yB})`).call(d3.axisBottom(x).tickValues(xTicks).tickSize(-6).tickPadding(12).tickFormat(d3.format("d"))).call(styleAx);
  g.append("g").attr("transform",`translate(${p.x0},0)`).call(d3.axisLeft(y).tickValues(yTicks).tickSize(-6).tickPadding(9).tickFormat(d3.format("d"))).call(styleAx);
  g.append("g").attr("transform",`translate(0,${p.yT})`).call(d3.axisTop(x).tickValues(xTicks).tickSize(-6).tickFormat("")).call(styleAx);
  g.append("g").attr("transform",`translate(${p.x1},0)`).call(d3.axisRight(y).tickValues(yTicks).tickSize(-6).tickFormat("")).call(styleAx);
  g.append("rect").attr("x",p.x0).attr("y",p.yT).attr("width",p.x1-p.x0).attr("height",p.yB-p.yT).attr("fill","none").attr("stroke","#000").attr("stroke-width",2);
  g.append("text").attr("x",p.titleX).attr("y",p.titleY).attr("text-anchor","middle").attr("font-family",FONT).attr("font-size",21).text(p.title);
  g.append("text").attr("transform",`translate(${p.labX},217) rotate(-90)`).attr("text-anchor","middle").attr("font-family",FONT).attr("font-size",21).text(yLabel);
  const xl=g.append("text").attr("x",(p.x0+p.x1)/2).attr("y",412).attr("text-anchor","middle").attr("font-family",FONT).attr("font-size",21);
  xl.append("tspan").text(xLabelParts[0]);
  xl.append("tspan").attr("font-size",14).attr("dy",6).text(xLabelParts[1]);
  xl.append("tspan").attr("dy",-6).text(xLabelParts[2]);
  arrowH(g,p.arrows.l[0],p.arrows.l[1],447);
  arrowH(g,p.arrows.r[0],p.arrows.r[1],447);
  g.append("text").attr("x",p.dest).attr("y",477).attr("font-family",FONT).attr("font-size",21).text(bottomLabels[0]);
  g.append("text").attr("x",p.stab).attr("y",477).attr("text-anchor","end").attr("font-family",FONT).attr("font-size",21).text(bottomLabels[1]);
});

const side=svg.append("g");
arrowV(side,213,55,50);
arrowV(side,236,390,50);
side.append("text").attr("transform","translate(33,88) rotate(-90)").attr("text-anchor","middle").attr("font-family",FONT).attr("font-size",21).text(sideLabels[0]);
side.append("text").attr("transform","translate(33,383) rotate(-90)").attr("text-anchor","middle").attr("font-family",FONT).attr("font-size",21).text(sideLabels[1]);
</script></body></html>
